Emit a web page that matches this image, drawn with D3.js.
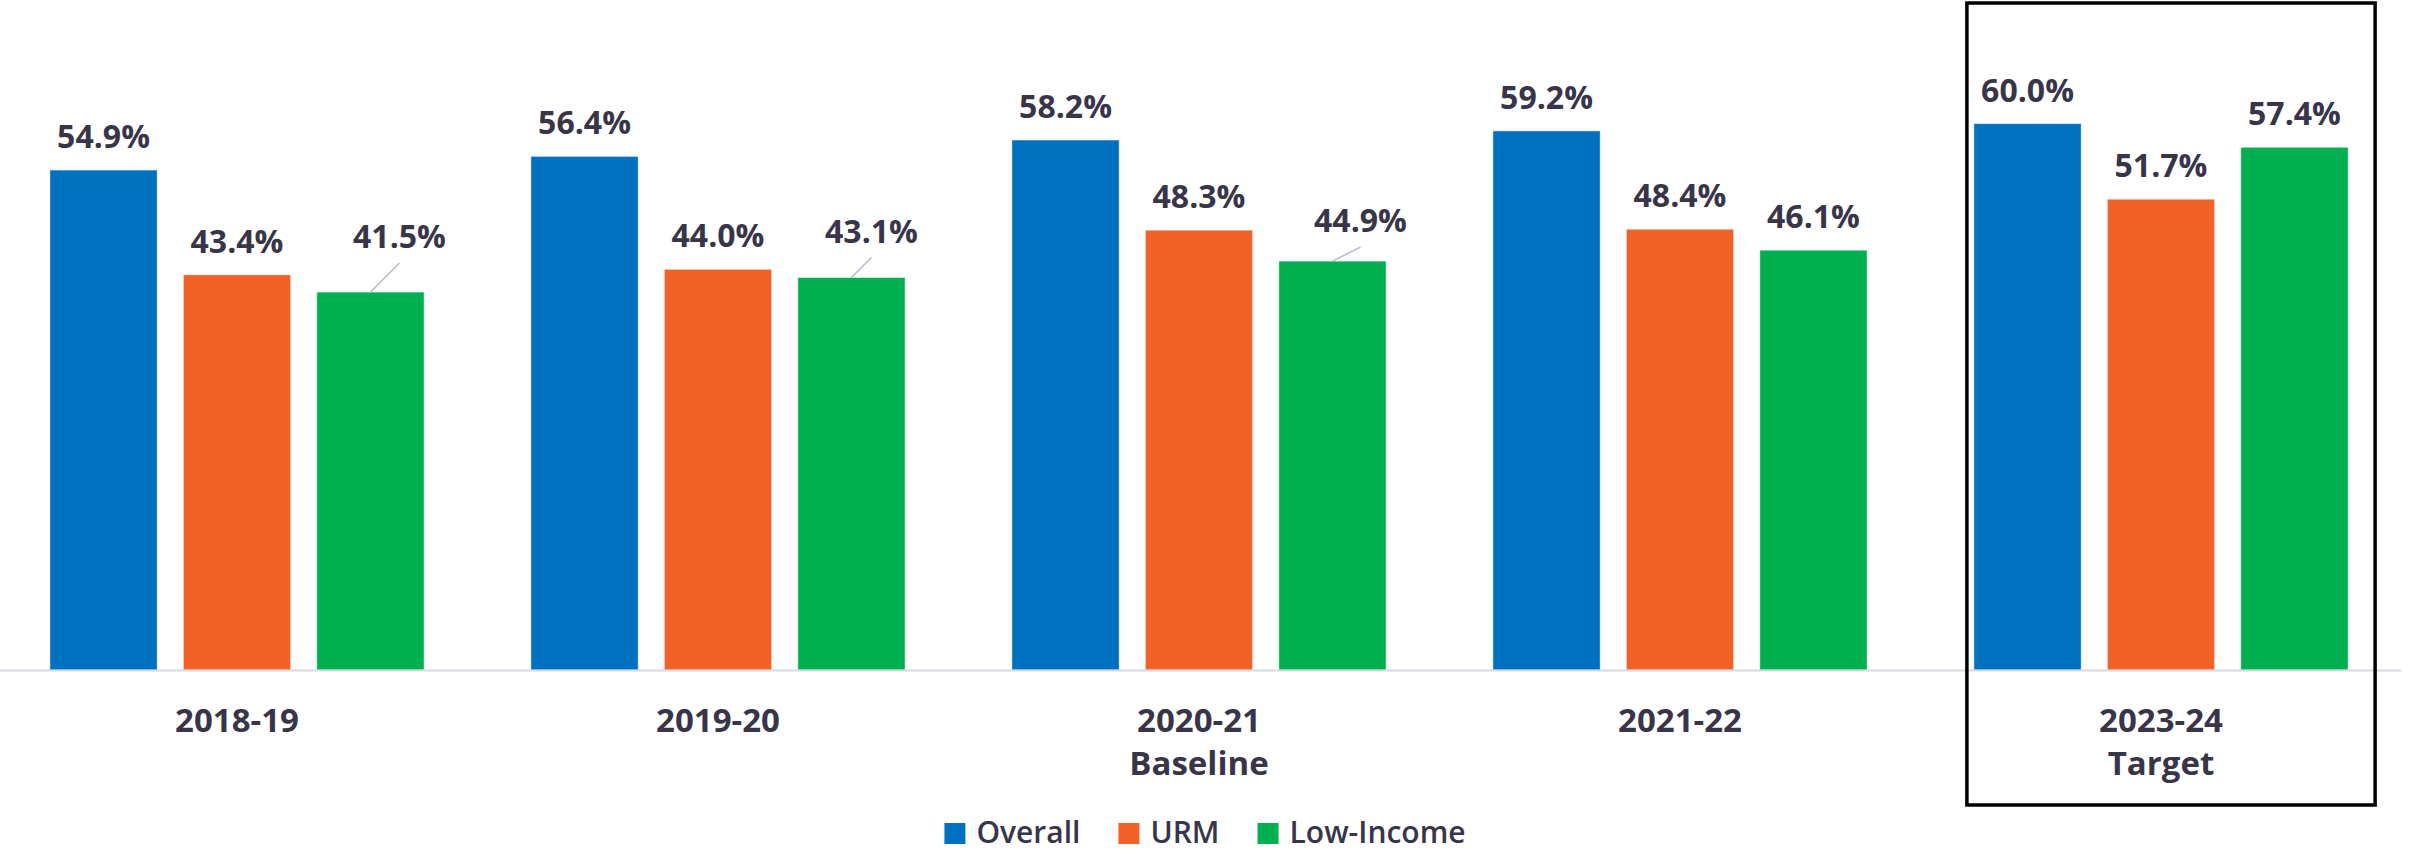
<!DOCTYPE html>
<html>
<head>
<meta charset="utf-8">
<script src="https://cdn.jsdelivr.net/npm/d3@7"></script>
<style>
   body { margin: 0; background: #ffffff; }
   svg { display: block; }
</style>
</head>
<body>
<div id="chart"></div>
<script>
// SET DATA
var years = ['2018-19', '2019-20', '2020-21', '2021-22', '2023-24'];
var subLabels = ['', '', 'Baseline', '', 'Target'];
var seriesNames = ['Overall', 'URM', 'Low-Income'];
var overall = [54.9, 56.4, 58.2, 59.2, 60.0];
var urm = [43.4, 44.0, 48.3, 48.4, 51.7];
var lowIncome = [41.5, 43.1, 44.9, 46.1, 57.4];

// LABELS PUSHED OFF THE BAR (DRAWN WITH A LEADER LINE) -- [series, year, dx, dy]
var leaders = [
   [2, 0, 29, -44],
   [2, 1, 20, -35],
   [2, 2, 28, -29]
];

// SETTINGS OBJECT
var settings = {
   width: 2432,
   height: 851,
   baseline: 670,
   top: 123.6,
   left: -3.5,
   right: 2401.5,
   colors: ['#0070C0', '#F26125', '#00B050'],
   text: '#383548',
   axis: '#d9d9e1',
   font: '"Open Sans", "Noto Sans", sans-serif'
};

var series = [overall, urm, lowIncome];

// GENERATE CANVAS
var canvas = d3.select('#chart').append('svg')
   .attr('width', settings.width)
   .attr('height', settings.height)
   .style('font-family', settings.font);

// SCALES
var xScale = d3.scaleBand()
   .domain(d3.range(years.length))
   .range([settings.left, settings.right])
   .paddingInner(0.222)
   .paddingOuter(0.111);

var xInner = d3.scaleBand()
   .domain(d3.range(seriesNames.length))
   .range([0, xScale.bandwidth()])
   .paddingInner(0.196);

var yScale = d3.scaleLinear()
   .domain([0, 60])
   .range([settings.baseline, settings.top]);

// BARS
var groups = canvas.selectAll('.group').data(years).enter()
   .append('g')
   .attr('class', 'group')
   .attr('transform', (d, i) => 'translate(' + xScale(i) + ',0)');

groups.selectAll('rect')
   .data((d, i) => series.map((s, k) => ({ k: k, i: i, v: s[i] })))
   .enter()
   .append('rect')
   .attr('x', (d) => xInner(d.k))
   .attr('y', (d) => yScale(d.v))
   .attr('width', xInner.bandwidth())
   .attr('height', (d) => settings.baseline - yScale(d.v))
   .attr('fill', (d) => settings.colors[d.k])
   .attr('stroke', '#ffffff')
   .attr('stroke-opacity', 0.5)
   .attr('stroke-width', 1);

// AXIS LINE
canvas.append('line')
   .attr('x1', settings.left)
   .attr('x2', settings.right)
   .attr('y1', settings.baseline + 0.5)
   .attr('y2', settings.baseline + 0.5)
   .attr('stroke', settings.axis)
   .attr('stroke-width', 2);

// VALUE LABELS
groups.each(function (year, i) {
   var g = d3.select(this);
   series.forEach((s, k) => {
      var cx = xInner(k) + xInner.bandwidth() / 2;
      var top = yScale(s[i]);
      var lead = leaders.find((l) => l[0] === k && l[1] === i);
      var dx = lead ? lead[2] : 0;
      var dy = lead ? lead[3] : -22;

      if (lead) {
         g.append('line')
            .attr('x1', cx + dx)
            .attr('y1', top + dy + 15)
            .attr('x2', cx)
            .attr('y2', top)
            .attr('stroke', '#b9b7c9')
            .attr('stroke-width', 1.5);
      }

      g.append('text')
         .attr('x', cx + dx)
         .attr('y', top + dy)
         .attr('text-anchor', 'middle')
         .attr('fill', settings.text)
         .style('font-size', '32px')
         .style('font-weight', 700)
         .text(d3.format('.1f')(s[i]) + '%');
   });
});

// CATEGORY LABELS
groups.append('text')
   .attr('x', xScale.bandwidth() / 2)
   .attr('y', 732)
   .attr('text-anchor', 'middle')
   .attr('fill', settings.text)
   .style('font-size', '33px')
   .style('font-weight', 700)
   .text((d) => d);

groups.append('text')
   .attr('x', xScale.bandwidth() / 2)
   .attr('y', 775)
   .attr('text-anchor', 'middle')
   .attr('fill', settings.text)
   .style('font-size', '33px')
   .style('font-weight', 700)
   .text((d, i) => subLabels[i]);

// TARGET BOX
var last = years.length - 1;
canvas.append('rect')
   .attr('x', xScale(last) - 7)
   .attr('y', 3)
   .attr('width', xScale.bandwidth() + 7 + 27)
   .attr('height', 802)
   .attr('fill', 'none')
   .attr('stroke', '#000000')
   .attr('stroke-width', 3.5);

// LEGEND
var legend = canvas.append('g');
var cursor = 0;
seriesNames.forEach((name, k) => {
   var item = legend.append('g').attr('transform', 'translate(' + cursor + ',0)');
   item.append('rect')
      .attr('x', 0)
      .attr('y', 823)
      .attr('width', 21)
      .attr('height', 21)
      .attr('fill', settings.colors[k]);
   var label = item.append('text')
      .attr('x', 32)
      .attr('y', 843)
      .attr('fill', settings.text)
      .style('font-size', '30px')
      .style('font-weight', 600)
      .text(name);
   cursor += 32 + label.node().getComputedTextLength() + 38;
});
var legendWidth = cursor - 38;
legend.attr('transform', 'translate(' + (1205 - legendWidth / 2) + ',0)');
</script>
</body>
</html>
